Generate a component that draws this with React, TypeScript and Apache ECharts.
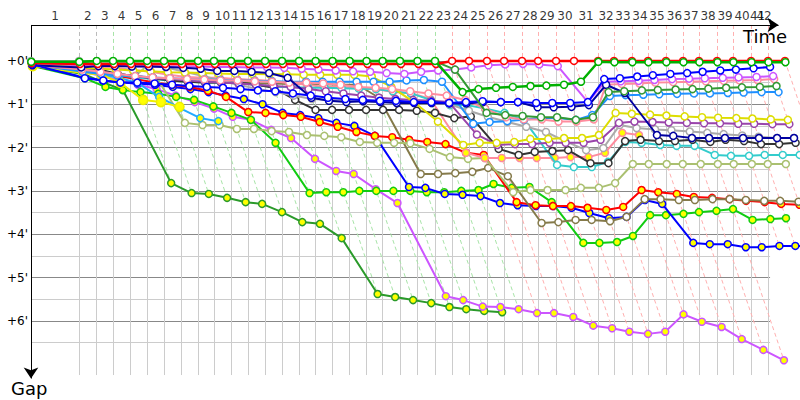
import React, { useEffect, useRef } from "react";
import * as echarts from "echarts";

// Leader's crossing time (minutes) at the end of each lap, index = lap (0 = start)
const LAP_END = [0, 3.29, 4.5, 5.62, 6.78, 7.95, 9.11, 10.27, 11.44, 12.53, 13.7, 14.86, 16.03, 17.19, 18.36, 19.49, 20.65, 21.82, 22.98, 24.08, 25.27, 26.47, 27.67, 28.84, 30.0, 31.23, 32.4, 33.63, 34.73, 35.96, 37.19, 38.84, 39.93, 41.16, 42.26, 43.49, 44.66, 45.75, 46.99, 48.08, 49.32, 50.48, 51.64];
const LAP_NUMBERS = [1, 2, 3, 4, 5, 6, 7, 8, 9, 10, 11, 12, 13, 14, 15, 16, 17, 18, 19, 20, 21, 22, 23, 24, 25, 26, 27, 28, 29, 30, 31, 32, 33, 34, 35, 36, 37, 38, 39, 40, 41, 42];
const GAP_TICKS = [0, 1, 2, 3, 4, 5, 6];
const GAP_MINOR = [0.5, 1.5, 2.5, 3.5, 4.5, 5.5, 6.5];

// Gap to leader (minutes) per lap, index = lap
const greenW = [0.02, 0.02, 0, 0, 0, 0, 0, 0, 0, 0, 0, 0, 0, 0, 0, 0, 0, 0, 0, 0, 0, 0, 0, 0.72, 0.65, 0.62, 0.6, 0.58, 0.57, 0.55, 0.48, 0.02, 0.03, 0.03, 0.03, 0.03, 0.03, 0.03, 0.03, 0.03, 0.03, 0.03, 0.03];
const redW = [0.05, 0.07, 0.07, 0.07, 0.07, 0.07, 0.07, 0.07, 0.07, 0.07, 0.07, 0.07, 0.07, 0.07, 0.07, 0.07, 0.07, 0.07, 0.07, 0.07, 0.07, 0.07, 0.07, 0, 0, 0, 0, 0, 0, 0, 0, 0, 0, 0, 0, 0, 0, 0, 0, 0, 0, 0, 0];
const grayW = [0.0, 0.0, 0.0, 0.02, 0.05, 0.08, 0.15, 0.25, 0.35, 0.45, 0.55, 0.65, 0.72, 0.8, 0.88, 0.9, 0.92, 0.93, 0.94, 0.95, 0.96, 0.97, 1.0, 1.15, 1.29, 1.41, 1.52, 1.64, 1.85, 2.06, 2.01, 1.48, 1.55, 1.58, 1.6, 1.63, 1.66, 1.69, 1.72, 1.75, 1.78, 1.78, null];
const darkGreenW = [0.03, 0.03, 0.01, 0.01, 0.01, 0.01, 0.01, 0.01, 0.01, 0.01, 0.01, 0.01, 0.01, 0.01, 0.01, 0.01, 0.01, 0.01, 0.01, 0.01, 0.01, 0.01, 0.01, 0.2, 1.2, 1.25, 1.27, 1.3, 1.3, 1.36, 1.3, 0.72, 0.7, 0.68, 0.67, 0.66, 0.65, 0.64, 0.62, 0.61, 0.6, 0.58, null];
const blueW = [0.08, 0.4, 0.45, 0.5, 0.5, 0.52, 0.55, 0.58, 0.6, 0.62, 0.65, 0.68, 0.7, 0.75, 0.8, 0.85, 0.88, 0.9, 0.92, 0.92, 0.95, 0.95, 0.97, 0.95, 0.93, 0.95, 0.95, 0.97, 0.97, 0.97, 0.95, 0.42, 0.4, 0.36, 0.33, 0.3, 0.28, 0.25, 0.22, 0.2, 0.17, 0.14, null];
const navyW = [0.1, 0.15, 0.12, 0.12, 0.13, 0.13, 0.14, 0.16, 0.18, 0.23, 0.23, 0.25, 0.28, 0.39, 0.85, 0.92, 0.95, 0.93, 0.95, 0.97, 0.97, 0.97, 0.98, 0.98, 0.95, 0.95, 0.95, 1.07, 1.07, 1.06, 1.02, 0.55, 0.74, 1.71, 1.73, 1.78, 1.78, 1.78, 1.78, 1.78, 1.78, 1.78, null];
const magentaW = [0.05, 0.1, 0.12, 0.12, 0.12, 0.13, 0.13, 0.13, 0.13, 0.14, 0.14, 0.15, 0.15, 0.16, 0.18, 0.2, 0.22, 0.24, 0.25, 0.28, 0.3, 0.25, 0.22, 0.2, 0.15, 0.1, 0.08, 0.07, 0.08, 0.12, 0.95, 0.48, 0.47, 0.46, 0.44, 0.42, 0.41, 0.4, 0.39, 0.38, 0.37, 0.35, null];
const pinkW = [0.1, 0.2, 0.25, 0.3, 0.35, 0.38, 0.4, 0.42, 0.43, 0.45, 0.45, 0.47, 0.48, 0.5, 0.5, 0.52, 0.55, 0.6, 0.62, 0.65, 0.7, 0.75, 0.8, 0.9, 1.1, 1.3, 1.35, 1.35, 1.4, 1.4, 1.35, 0.55, 0.53, 0.52, 0.5, 0.49, 0.48, 0.47, 0.46, 0.45, 0.44, 0.42, null];
const dodgerW = [0.08, 0.25, 0.3, 0.33, 0.35, 0.38, 0.4, 0.42, 0.43, 0.44, 0.45, 0.46, 0.47, 0.48, 0.48, 0.48, 0.48, 0.48, 0.48, 0.48, 0.45, 0.44, 0.48, 1.45, 1.41, 1.39, 1.36, 1.32, 1.32, 1.36, 1.25, 0.81, 0.79, 0.78, 0.77, 0.76, 0.75, 0.75, 0.74, 0.73, 0.72, 0.72, null];
const yellowW = [0.05, 0.15, 0.18, 0.2, 0.22, 0.24, 0.26, 0.27, 0.28, 0.29, 0.3, 0.3, 0.31, 0.31, 0.32, 0.32, 0.32, 0.32, 0.36, 0.6, 0.95, 1.4, 1.94, 1.89, 1.89, 1.87, 1.8, 1.8, 1.78, 1.78, 1.71, 1.2, 1.22, 1.24, 1.26, 1.28, 1.3, 1.31, 1.32, 1.33, 1.35, 1.36, null];
const purpleW = [0.08, 0.2, 0.25, 0.3, 0.35, 0.4, 0.42, 0.45, 0.48, 0.5, 0.52, 0.55, 0.58, 0.6, 0.65, 0.7, 0.75, 0.8, 0.85, 0.88, 0.9, 0.92, 0.95, 1.7, 1.94, 1.92, 1.92, 1.89, 1.89, 1.89, 1.82, 1.43, 1.4, 1.41, 1.42, 1.43, 1.44, 1.44, 1.45, 1.45, 1.46, 1.46, null];
const blackW = [0.08, 0.15, 0.2, 0.3, 0.35, 0.4, 0.45, 0.48, 0.5, 0.5, 0.5, 0.55, 0.62, 0.9, 1.13, 1.13, 1.13, 1.13, 1.13, 1.13, 1.15, 1.2, 1.32, 1.28, 2.03, 2.17, 2.1, 2.08, 2.06, 2.36, 2.36, 1.85, 1.82, 1.85, 1.85, 1.82, 1.87, 1.82, 1.85, 1.92, 1.92, 1.89, null];
const cyanW = [0.08, 0.2, 0.28, 0.32, 0.38, 0.42, 0.45, 0.48, 0.5, 0.5, 0.52, 0.55, 0.6, 0.6, 0.62, 0.62, 0.63, 0.64, 0.65, 0.7, 0.75, 0.9, 1.02, 1.02, 1.1, 1.2, 1.36, 2.4, 2.45, 2.45, 2.33, 1.87, 1.89, 1.94, 1.96, 1.96, 2.17, 2.19, 2.19, 2.17, 2.17, 2.17, null];
const khakiW = [0.1, 0.2, 0.25, 0.3, 0.35, 0.09, 1.43, 1.48, 1.48, 1.57, 1.57, 1.62, 1.64, 1.71, 1.73, 1.76, 1.87, 1.89, 1.89, 1.9, 2.03, 2.22, 2.26, 2.24, 3.03, 2.98, 2.98, 2.98, 2.93, 2.93, 2.82, 2.38, 2.38, 2.38, 2.38, 2.38, 2.38, 2.38, 2.38, 2.38, 2.38, null, null];
const oliveW = [0.1, 0.2, 0.25, 0.3, 0.35, 0.4, 0.45, 0.48, 0.5, 0.5, 0.5, 0.52, 0.52, 0.53, 0.53, 0.54, 0.55, 0.55, 0.85, 2.61, 2.61, 2.59, 2.56, 2.47, 2.66, 3.74, 3.72, 3.67, 3.67, 3.7, 3.6, 3.19, 3.19, 3.21, 3.21, 3.19, 3.19, 3.21, 3.23, 3.23, 3.25, null, null];
const redY = [0.05, 0.2, 0.27, 0.35, 0.42, 0.5, 0.55, 0.6, 0.69, 0.83, 1.18, 1.2, 1.25, 1.29, 1.41, 1.52, 1.64, 1.73, 1.76, 1.82, 1.87, 1.92, 2.12, 2.17, 3.26, 3.33, 3.35, 3.35, 3.39, 3.44, 3.37, 2.98, 3.03, 3.07, 3.14, 3.16, 3.19, 3.23, 3.26, 3.3, 3.32, 3.34, 3.36];
const blueY = [0.1, 0.38, 0.45, 0.5, 0.52, 0.55, 0.6, 0.65, 0.72, 0.8, 0.88, 1.0, 1.2, 1.25, 1.32, 1.43, 1.5, 1.73, 2.91, 2.93, 3.07, 3.09, 3.12, 3.28, 3.33, 3.35, 3.35, 3.39, 3.51, 3.63, 3.6, 3.21, 3.3, 4.2, 4.23, 4.23, 4.3, 4.3, 4.27, 4.27, 4.28, 4.28, 4.28];
const greenY = [0.12, 0.4, 0.6, 0.67, 0.72, 0.76, 0.83, 0.9, 1.05, 1.2, 1.36, 1.89, 3.05, 3.03, 3.03, 3.0, 3.0, 3.0, 3.0, 3.03, 3.03, 3.0, 2.98, 2.84, 2.93, 2.91, 3.26, 4.2, 4.2, 4.18, 4.04, 3.56, 3.56, 3.53, 3.49, 3.46, 3.42, 3.67, 3.65, 3.63, null, null, null];
const magentaY = [0.1, 0.25, 0.35, 0.45, 0.55, 0.65, 0.8, 0.95, 1.1, 1.29, 1.36, 1.59, 1.78, 2.26, 2.54, 2.61, 2.96, 3.28, 5.43, 5.52, 5.67, 5.68, 5.73, 5.82, 5.82, 5.91, 6.11, 6.17, 6.25, 6.3, 6.25, 5.85, 6.02, 6.14, 6.42, 6.67, 6.91, null, null, null, null, null, null];
const forestY = [0.12, 0.3, 0.5, 0.67, 2.82, 3.05, 3.07, 3.16, 3.26, 3.3, 3.49, 3.72, 3.76, 4.09, 5.38, 5.45, 5.52, 5.59, 5.68, 5.73, 5.77, 5.8];
const pinkY = [0.05, 0.1, 0.13, 0.16, 0.21, 0.25, 0.32, 0.37, 0.39, 0.39, 0.42, 0.44, 0.46, 0.51, 0.55, 0.6, 0.6, 0.62, 0.65, 0.72, 0.74, 0.88, 2.12, 2.24, 2.24, 2.24, 2.24, 2.24, 2.22, 2.22, 2.12, 1.66, 1.71];
const skyY = [0.08, 0.21, 0.32, 0.39, 0.51, 0.83, 1.09, 1.32, 1.39];
const yellowY = [0.12, 0.28, 0.32, 0.51, 0.9, 0.95, 1.06];

const CARS = [
  { gaps: forestY, color: "#2a9a2a", fill: "#ffff00", size: 7, width: 2 },
  { gaps: magentaY, color: "#cc55ff", fill: "#ffff00", size: 7, width: 2 },
  { gaps: greenY, color: "#11cc11", fill: "#ffff00", size: 7, width: 2 },
  { gaps: blueY, color: "#0000ff", fill: "#ffff00", size: 7, width: 2 },
  { gaps: redY, color: "#ff0000", fill: "#ffff00", size: 7, width: 2 },
  { gaps: oliveW, color: "#857a4a", fill: "#ffffff", size: 7, width: 2 },
  { gaps: khakiW, color: "#aac070", fill: "#ffffff", size: 7, width: 2 },
  { gaps: skyY, color: "#22aaff", fill: "#ffff00", size: 7, width: 2 },
  { gaps: yellowY, color: "#eeee00", fill: "#ffff00", size: 9, width: 2 },
  { gaps: pinkY, color: "#ff8c9e", fill: "#ffff00", size: 7, width: 2 },
  { gaps: cyanW, color: "#33cccc", fill: "#ffffff", size: 7, width: 2 },
  { gaps: blackW, color: "#333333", fill: "#ffffff", size: 7, width: 2 },
  { gaps: grayW, color: "#aaaaaa", fill: "#ffffff", size: 7, width: 2 },
  { gaps: purpleW, color: "#9944aa", fill: "#ffffff", size: 7, width: 2 },
  { gaps: yellowW, color: "#dddd00", fill: "#ffffff", size: 7, width: 2 },
  { gaps: dodgerW, color: "#1e90ff", fill: "#ffffff", size: 7, width: 2 },
  { gaps: pinkW, color: "#ff8c9e", fill: "#ffffff", size: 7, width: 2 },
  { gaps: magentaW, color: "#cc55ff", fill: "#ffffff", size: 7, width: 2 },
  { gaps: navyW, color: "#0000a0", fill: "#ffffff", size: 7, width: 2 },
  { gaps: blueW, color: "#0000ff", fill: "#ffffff", size: 7, width: 2 },
  { gaps: darkGreenW, color: "#339933", fill: "#ffffff", size: 7, width: 2 },
  { gaps: redW, color: "#ff0000", fill: "#ffffff", size: 7, width: 2.5 },
  { gaps: greenW, color: "#00b000", fill: "#ffffff", size: 7, width: 2.5 },
];

const FONT = "DejaVu Sans";
const Y_TOP = -0.83;      // top axis line
const Y_GRID_END = 7.25;  // bottom end of the vertical grid lines
const Y_ARROW_END = 7.33;
const X_GRID_END = 50.62; // right end of the horizontal grid lines
const X_ARROW_END = 51.2;
const X_AXIS_MAX = 52.67;
const Y_AXIS_MAX = 7.6;
const PX_PER_MIN = 14.6;
const LABEL_RIGHT_LIMIT = 764; // lap numbers are squeezed in before the arrow head
const LABEL_STEP = 6.5;

function buildOption() {
  const lastLap = LAP_END.length - 1;
  const leaderColor: string[] = [];
  const maxGap: number[] = [];
  for (let lap = 0; lap <= lastLap; lap++) {
    let best = Infinity;
    let bestColor = "#aaaaaa";
    let worst = 0;
    CARS.forEach((c) => {
      const g = c.gaps[lap];
      if (g == null) return;
      if (g < best) { best = g; bestColor = c.color; }
      if (g > worst) worst = g;
    });
    leaderColor.push(bestColor);
    maxGap.push(worst);
  }
  const lightOf = (c: string) =>
    c === "#ff0000" ? "#ffb0b0" : c === "#00b000" || c === "#339933" ? "#a8e4a8" : "#bbbbbb";

  const gridLines: any[] = [];
  GAP_MINOR.forEach((g) =>
    gridLines.push([{ coord: [0, g], lineStyle: { color: "#cccccc", width: 1, type: "solid" } }, { coord: [X_GRID_END, g] }])
  );
  GAP_TICKS.forEach((g) =>
    gridLines.push([{ coord: [0, g], lineStyle: { color: "#888888", width: 1, type: "solid" } }, { coord: [X_GRID_END, g] }])
  );
  for (let lap = 1; lap <= lastLap; lap++) {
    const t = LAP_END[lap];
    if (t <= X_GRID_END) {
      gridLines.push([{ coord: [t, 0], lineStyle: { color: "#cccccc", width: 1, type: "solid" } }, { coord: [t, Y_GRID_END] }]);
    }
  }
  const lapLines: any[] = [];
  for (let lap = 1; lap <= lastLap; lap++) {
    const t = LAP_END[lap];
    const col = lightOf(leaderColor[lap]);
    if (t <= X_GRID_END) {
      lapLines.push([{ coord: [t, Y_TOP], lineStyle: { color: col, width: 1, type: [4, 3] } }, { coord: [t, 0] }]);
    }
    const end = Math.min(t + maxGap[lap], X_AXIS_MAX);
    lapLines.push([{ coord: [t, 0], lineStyle: { color: col, width: 1, type: [4, 3] } }, { coord: [end, end - t] }]);
  }

  const series: any[] = [
    {
      type: "line", data: [], silent: true, clip: false, z: 1,
      markLine: { silent: true, symbol: "none", animation: false, label: { show: false }, data: gridLines },
    },
    {
      type: "line", data: [], silent: true, clip: false, z: 2,
      markLine: { silent: true, symbol: "none", animation: false, label: { show: false }, data: lapLines },
    },
  ];
  CARS.forEach((c, i) => {
    series.push({
      type: "line",
      z: 10 + i,
      clip: false,
      data: c.gaps.map((g, lap) => (g == null ? null : [LAP_END[lap] + g, g])),
      symbol: "circle",
      symbolSize: c.size,
      showAllSymbol: true,
      lineStyle: { color: c.color, width: c.width },
      itemStyle: { color: c.fill, borderColor: c.color, borderWidth: 1.5 },
      emphasis: { disabled: true },
    });
  });
  // axes with arrows
  series.push({
    type: "line", data: [], silent: true, clip: false, z: 50,
    markLine: {
      silent: true, animation: false, symbol: ["none", "arrow"], symbolSize: 11,
      label: { show: false },
      data: [
        [{ coord: [0, Y_TOP], lineStyle: { color: "#000000", width: 1, type: "solid" } }, { coord: [X_ARROW_END, Y_TOP] }],
        [{ coord: [0, Y_TOP], lineStyle: { color: "#000000", width: 1, type: "solid" } }, { coord: [0, Y_ARROW_END] }],
      ],
    },
  });
  // lap numbers along the top axis, centred on each lap
  series.push({
    type: "scatter", z: 51, clip: false, silent: true,
    symbolSize: 0,
    data: LAP_NUMBERS.map((n, i) => {
      const mid = (LAP_END[i] + LAP_END[i + 1]) / 2;
      const midPx = 31 + mid * PX_PER_MIN;
      const limit = LABEL_RIGHT_LIMIT - (LAP_NUMBERS.length - n) * LABEL_STEP;
      const shift = Math.min(0, limit - midPx);
      return { value: [mid, Y_TOP, n], label: { offset: [shift, 0] } };
    }),
    label: {
      show: true, position: "top", distance: 3, formatter: (p: any) => String(p.value[2]),
      fontFamily: FONT, fontSize: 12, color: "#000",
    },
  });

  return {
    animation: false,
    backgroundColor: "#ffffff",
    grid: { left: 31, right: 0, top: 17.6, bottom: 9.8 },
    xAxis: { type: "value", min: 0, max: X_AXIS_MAX, show: false },
    yAxis: {
      type: "value", inverse: true, min: -1, max: Y_AXIS_MAX, interval: 1,
      axisLine: { show: false }, axisTick: { show: false }, splitLine: { show: false },
      axisLabel: {
        margin: 3, fontFamily: FONT, fontSize: 12, color: "#000",
        formatter: (v: number) => (GAP_TICKS.indexOf(v) >= 0 ? `+${v}'` : ""),
      },
    },
    graphic: [
      { type: "text", left: 743, top: 27, style: { text: "Time", font: `18px ${FONT}`, fill: "#000" } },
      { type: "text", left: 11, top: 379, style: { text: "Gap", font: `18px ${FONT}`, fill: "#000" } },
    ],
    series,
  };
}

export default function App() {
  const ref = useRef<HTMLDivElement>(null);
  useEffect(() => {
    const chart = echarts.init(ref.current!, null, { renderer: "svg" });
    chart.setOption(buildOption() as any);
    return () => chart.dispose();
  }, []);
  return <div ref={ref} style={{ position: "fixed", left: 0, top: 0, width: 800, height: 400 }} />;
}
